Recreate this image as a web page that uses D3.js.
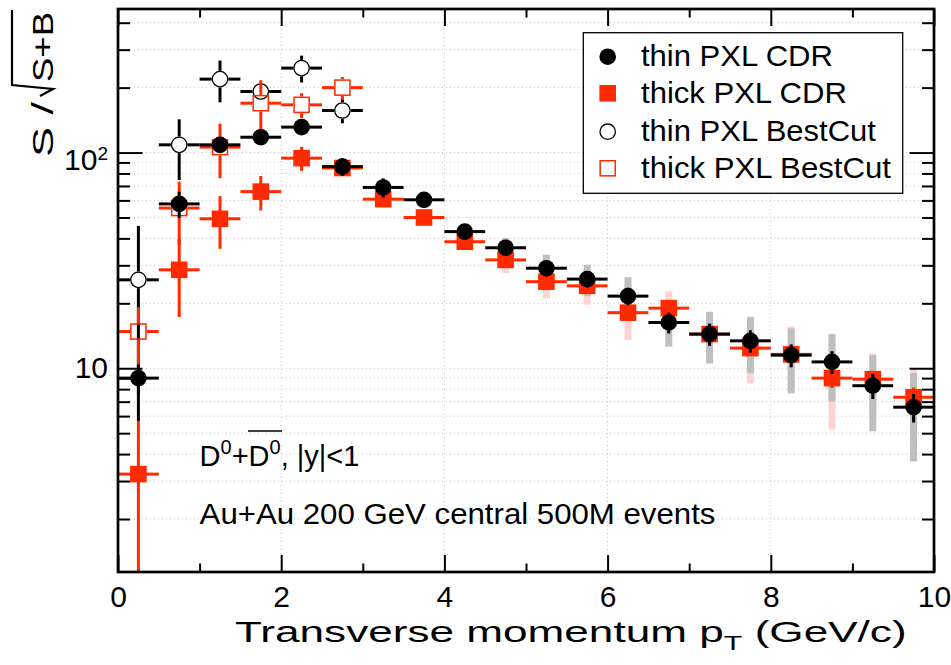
<!DOCTYPE html>
<html>
<head>
<meta charset="utf-8">
<script src="https://d3js.org/d3.v7.min.js"></script>
<style>
  body { margin: 0; background: #fff; }
  svg { display: block; font-family: "Liberation Sans", Arial, Helvetica, sans-serif; }
</style>
</head>
<body>
<div id="chart"></div>
<script>
// pT bins (GeV/c), bin half width 0.25
const binCenters = [0.25, 0.75, 1.25, 1.75, 2.25, 2.75, 3.25, 3.75, 4.25, 4.75,
                    5.25, 5.75, 6.25, 6.75, 7.25, 7.75, 8.25, 8.75, 9.25, 9.75];
const binHalf = 0.25;

// thin PXL CDR (black filled circles)
const thinCDR      = [9.0, 57.8, 108.6, 117.8, 131.2, 86.1, 68.9, 60.4, 43.0, 36.2,
                      29.1, 25.9, 21.6, 16.3, 14.4, 13.4, 11.5, 10.7, 8.3, 6.6];
const thinCDRErr   = [1.4, 8, 7, 7, 6, 8, 7, 5, 3.5, 3,
                      2.5, 2.2, 2, 1.8, 1.7, 1.6, 1.4, 1.3, 1.1, 1.0];
const thinCDRBand  = [0, 0, 0, 0, 0, 0, 0, 0, 0, 4,
                      4.5, 4.3, 4.85, 3.7, 3.85, 3.9, 3.8, 3.7, 3.2, 2.9];

// thick PXL CDR (red filled squares)
const thickCDR     = [3.23, 28.6, 49.3, 65.9, 94.2, 84.8, 60.8, 50.0, 38.6, 31.8,
                      25.2, 24.1, 18.1, 19.0, 14.4, 12.4, 11.6, 9.0, 8.9, 7.34];
const thickCDRErr  = [2.5, 11.3, 13.5, 12, 12, 6, 4, 3, 2, 1.5,
                      1.5, 1.3, 1.2, 1.1, 1, 1, 0.9, 0.9, 0.8, 0.8];
const thickCDRBand = [0, 0, 0, 0, 0, 0, 0, 0, 0, 4.2,
                      4.1, 4.4, 4.6, 3.7, 3.9, 3.9, 4, 3.8, 2.8, 2.5];

// BestCut points only exist for the first six bins
const bestCutBins     = [0.25, 0.75, 1.25, 1.75, 2.25, 2.75];
const thinBestCut     = [25.7, 108.6, 219, 191.9, 246.4, 156.7];
const thinBestCutErr  = [20, 34, 48, 15, 35, 20];
const thickBestCut    = [14.8, 55.3, 106, 169.4, 166.4, 200];
const thickBestCutErr = [4.4, 18, 30, 47, 22, 24];

const xTicksMajor = [0, 2, 4, 6, 8, 10];
const xTicksMinor = [1, 3, 5, 7, 9];
const yTicksMajor = [10, 100];
const yTickLabels = ['10', '10^2'];
const yTicksMinor = [2, 3, 4, 5, 6, 7, 8, 9, 20, 30, 40, 50, 60, 70, 80, 90, 200, 300, 400];

const legendLabels = ['thin PXL CDR', 'thick PXL CDR', 'thin PXL BestCut', 'thick PXL BestCut'];

const red = '#ff2a00', black = '#000';
const width = 951, height = 665;
const margin = {top: 9, right: 17, bottom: 93, left: 118};

let svg = d3.select('#chart')
            .append('svg')
            .attr('width', width)
            .attr('height', height);

let x = d3.scaleLinear()
          .domain([0, 10])
          .range([margin.left, width - margin.right]);

let y = d3.scaleLog()
          .domain([1.136, 463])
          .range([height - margin.bottom, margin.top]);

const x0 = x.range()[0], x1 = x.range()[1];
const yb = y.range()[0], yt = y.range()[1];

svg.append('clipPath').attr('id', 'plotClip')
   .append('rect')
   .attr('x', x0).attr('y', yt)
   .attr('width', x1 - x0).attr('height', yb - yt);

// dotted grid
let grid = svg.append('g').attr('class', 'grid')
              .attr('stroke', '#c4c4c4')
              .attr('stroke-width', 1)
              .attr('stroke-dasharray', '1,3');

grid.selectAll('line.h')
    .data(yTicksMajor.concat(yTicksMinor))
    .enter().append('line')
    .attr('class', 'h')
    .attr('x1', x0).attr('x2', x1)
    .attr('y1', d => y(d)).attr('y2', d => y(d));

grid.selectAll('line.v')
    .data(xTicksMajor.slice(1, -1))
    .enter().append('line')
    .attr('class', 'v')
    .attr('y1', yt).attr('y2', yb)
    .attr('x1', d => x(d)).attr('x2', d => x(d));

let plot = svg.append('g').attr('clip-path', 'url(#plotClip)');

const R = 8.3, SQ = 16.6;
const lo = v => Math.max(v, y.domain()[0] * 0.5);

function drawBand(xs, vals, band, colour) {
  const pts = xs.map((d, i) => ({x: d, v: vals[i], b: band[i]})).filter(d => d.b > 0);
  plot.append('g')
      .selectAll('rect')
      .data(pts)
      .enter().append('rect')
      .attr('x', d => x(d.x) - 3.5)
      .attr('width', 7)
      .attr('y', d => y(d.v + d.b))
      .attr('height', d => y(lo(d.v - d.b)) - y(d.v + d.b))
      .style('fill', colour);
}

function drawSeries(xs, vals, errs, colour, shape, hollow) {
  const pts = xs.map((d, i) => ({x: d, v: vals[i], e: errs[i]}));
  const gap = hollow ? R : 0;
  let g = plot.append('g');

  let bars = g.append('g')
              .attr('stroke', colour)
              .attr('stroke-width', 3);

  pts.forEach(d => {
    const cx = x(d.x), cy = y(d.v);
    const top = y(d.v + d.e), bot = y(lo(d.v - d.e));
    if (top < cy - gap) bars.append('line').attr('x1', cx).attr('x2', cx).attr('y1', top).attr('y2', cy - gap);
    if (bot > cy + gap) bars.append('line').attr('x1', cx).attr('x2', cx).attr('y1', cy + gap).attr('y2', bot);
    bars.append('line').attr('y1', cy).attr('y2', cy).attr('x1', x(d.x - binHalf)).attr('x2', cx - gap);
    bars.append('line').attr('y1', cy).attr('y2', cy).attr('x1', cx + gap).attr('x2', x(d.x + binHalf));
  });

  addMarkers(g, pts.map(d => [x(d.x), y(d.v)]), colour, shape, hollow);
}

function addMarkers(parent, xy, colour, shape, hollow) {
  let g = parent.append('g');
  if (shape === 'circle') {
    g.selectAll('circle')
     .data(xy)
     .enter().append('circle')
     .attr('cx', d => d[0]).attr('cy', d => d[1])
     .attr('r', hollow ? R - 0.6 : R)
     .style('fill', hollow ? 'none' : colour)
     .style('stroke', hollow ? colour : 'none')
     .style('stroke-width', 1.3);
  } else {
    const s = hollow ? SQ - 1.5 : SQ;
    g.selectAll('rect')
     .data(xy)
     .enter().append('rect')
     .attr('x', d => d[0] - s / 2).attr('y', d => d[1] - s / 2)
     .attr('width', s).attr('height', s)
     .style('fill', hollow ? 'none' : colour)
     .style('stroke', hollow ? colour : 'none')
     .style('stroke-width', 1.5);
  }
}

drawBand(binCenters, thickCDR, thickCDRBand, '#ffd3d3');
drawBand(binCenters, thinCDR, thinCDRBand, '#bfbfbf');
drawSeries(binCenters, thickCDR, thickCDRErr, red, 'square', false);
drawSeries(bestCutBins, thinBestCut, thinBestCutErr, black, 'circle', true);
drawSeries(bestCutBins, thickBestCut, thickBestCutErr, red, 'square', true);
drawSeries(binCenters, thinCDR, thinCDRErr, black, 'circle', false);

// axes: ticks on all four sides, pointing inwards
function styleAxis(sel) {
  sel.select('.domain').remove();
  sel.selectAll('.tick line').attr('stroke', '#000').attr('stroke-width', 2);
}

svg.append('g')
   .attr('transform', `translate(0,${yb})`)
   .call(d3.axisBottom(x).tickValues(xTicksMajor).tickSize(-17).tickSizeOuter(0)
           .tickPadding(13.4).tickFormat(d3.format('d')))
   .call(styleAxis)
   .call(g => g.selectAll('text')
               .attr('font-family', '"Liberation Sans", Arial, sans-serif')
               .attr('font-size', 30).attr('fill', '#000'));

svg.append('g')
   .attr('transform', `translate(0,${yb})`)
   .call(d3.axisBottom(x).tickValues(xTicksMinor).tickSize(-8.5).tickSizeOuter(0).tickFormat(''))
   .call(styleAxis);

svg.append('g')
   .attr('transform', `translate(0,${yt})`)
   .call(d3.axisTop(x).tickValues(xTicksMajor).tickSize(-17).tickSizeOuter(0).tickFormat(''))
   .call(styleAxis);

svg.append('g')
   .attr('transform', `translate(0,${yt})`)
   .call(d3.axisTop(x).tickValues(xTicksMinor).tickSize(-8.5).tickSizeOuter(0).tickFormat(''))
   .call(styleAxis);

[[d3.axisLeft, x0], [d3.axisRight, x1]].forEach(([ax, pos]) => {
  svg.append('g')
     .attr('transform', `translate(${pos},0)`)
     .call(ax(y).tickValues(yTicksMajor).tickSize(-24.5).tickSizeOuter(0).tickFormat(''))
     .call(styleAxis);
  svg.append('g')
     .attr('transform', `translate(${pos},0)`)
     .call(ax(y).tickValues(yTicksMinor).tickSize(-12).tickSizeOuter(0).tickFormat(''))
     .call(styleAxis);
});

// y tick labels (ROOT style 10, 10^2)
yTicksMajor.forEach((v, i) => {
  const parts = yTickLabels[i].split('^');
  let t = svg.append('text')
             .attr('x', x0 - 10)
             .attr('y', y(v) + (parts[1] ? 17.3 : 10))
             .attr('text-anchor', 'end')
             .attr('font-size', 30);
  t.append('tspan').text(parts[0]);
  if (parts[1]) t.append('tspan').attr('dy', -10).attr('font-size', 19).text(parts[1]);
});

// frame
svg.append('rect')
   .attr('x', x0).attr('y', yt)
   .attr('width', x1 - x0).attr('height', yb - yt)
   .style('fill', 'none')
   .style('stroke', '#000')
   .style('stroke-width', 2.7);

// the ROOT text is a bit wider than Liberation Sans: stretch horizontally to the measured width
function fitText(parent, px, py, w, build) {
  let g = parent.append('g');
  let t = g.append('text').attr('x', 0).attr('y', 0).attr('font-size', 29);
  build(t);
  const s = w / t.node().getComputedTextLength();
  g.attr('transform', `translate(${px},${py}) scale(${s},1)`);
  return t;
}

// x title
fitText(svg, 235, 641.7, 672, t => {
  t.append('tspan').text('Transverse momentum p');
  t.append('tspan').attr('dy', 8).attr('font-size', 20).text('T');
  t.append('tspan').attr('dy', -8).text(' (GeV/c)');
});

// y title: S / sqrt(S+B)
let yTitle = svg.append('g').attr('transform', 'translate(53,0) rotate(-90)');
fitText(yTitle, -157, 0, 55, t => t.text('S /'));
yTitle.append('path')
      .attr('d', 'M-96,-13 L-89,0 L-85,-41 L-10,-41')
      .style('fill', 'none')
      .style('stroke', '#000')
      .style('stroke-width', 2.2);
fitText(yTitle, -82, 0, 70, t => t.text('S+B'));

// legend
let legend = svg.append('g');
legend.append('rect')
      .attr('x', 583.3).attr('y', 32.7)
      .attr('width', 319.4).attr('height', 160.6)
      .style('fill', '#fff')
      .style('stroke', '#000')
      .style('stroke-width', 1.3);

const legendRows = [56.7, 93.3, 131.7, 168.3];
const legendStyle = [[black, 'circle', false], [red, 'square', false],
                     [black, 'circle', true], [red, 'square', true]];
const legendWidths = [192, 206, 235, 250];

legendLabels.forEach((lab, i) => {
  const [c, s, h] = legendStyle[i];
  addMarkers(legend, [[607.7, legendRows[i]]], c, s, h);
  fitText(legend, 641, legendRows[i] + 9.5, legendWidths[i], t => t.text(lab));
});

// annotations
let ann1 = svg.append('text')
              .attr('x', 199.6).attr('y', 466.4)
              .attr('font-size', 29);
ann1.append('tspan').text('D');
ann1.append('tspan').attr('dy', -12.4).attr('font-size', 20).text('0');
ann1.append('tspan').attr('dy', 12.4).text('+D');
ann1.append('tspan').attr('dy', -12.4).attr('font-size', 20).text('0');
ann1.append('tspan').attr('dy', 12.4).text(', |y|<1');

// overline over the anti-D0
svg.append('line')
   .attr('x1', 248).attr('x2', 282)
   .attr('y1', 431).attr('y2', 431)
   .style('stroke', '#000')
   .style('stroke-width', 1.6);

fitText(svg, 199.6, 523.6, 516, t => t.text('Au+Au 200 GeV central 500M events'));
</script>
</body>
</html>
